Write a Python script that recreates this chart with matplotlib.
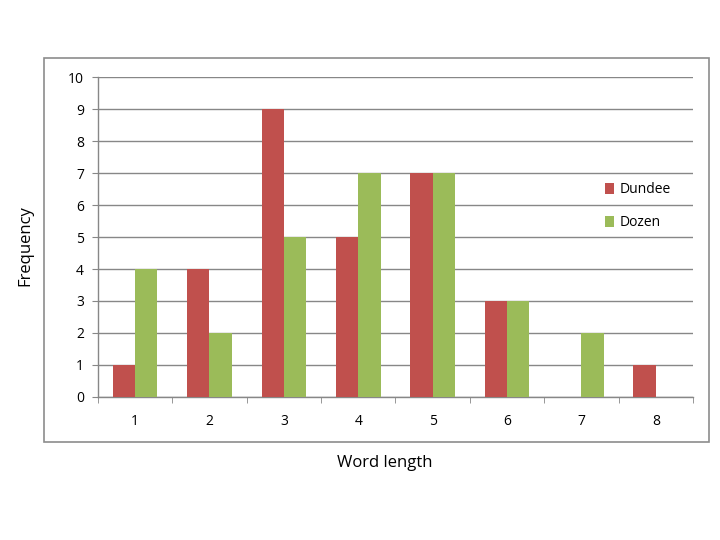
import numpy as np
import matplotlib
matplotlib.use('Agg')
import matplotlib.pyplot as plt
from matplotlib.patches import Rectangle

plt.rcParams['font.family'] = ['Open Sans', 'DejaVu Sans']

word_length = [1, 2, 3, 4, 5, 6, 7, 8]
dundee = [1, 4, 9, 5, 7, 3, 0, 1]
dozen = [4, 2, 5, 7, 7, 3, 2, 0]
series_names = ['Dundee', 'Dozen']
y_ticks = list(range(0, 11))

red = '#C0504D'
green = '#9BBB59'
grid_col = '#878787'

fig = plt.figure(figsize=(7.2, 5.4), dpi=100)
# outer chart border
fig.patches.append(Rectangle((0.061, 0.1815), 0.924, 0.711, transform=fig.transFigure,
                             fill=False, edgecolor='#8c8c8c', linewidth=1.2))

ax = fig.add_axes([0.136, 0.265, 0.8265, 0.592])
x = np.arange(len(word_length))
w = 0.3
b1 = ax.bar(x - w/2, dundee, width=w, color=red, label=series_names[0], zorder=3)
b2 = ax.bar(x + w/2, dozen, width=w, color=green, label=series_names[1], zorder=3)

ax.set_xlim(-0.5, len(word_length) - 0.5)
ax.set_ylim(0, 10)
ax.set_yticks(y_ticks)
ax.set_xticks(x)
ax.set_xticklabels([str(v) for v in word_length])
ax.set_xticks(np.arange(-0.5, len(word_length)), minor=True)
ax.tick_params(axis='x', which='major', length=0, pad=12, labelsize=10)
ax.tick_params(axis='x', which='minor', length=4, color=grid_col)
ax.tick_params(axis='y', length=4, color=grid_col, labelsize=10, pad=6)

ax.yaxis.grid(True, color=grid_col, linewidth=1.0, zorder=0)
ax.set_axisbelow(True)
for s in ['top', 'right']:
    ax.spines[s].set_visible(False)
for s in ['left', 'bottom']:
    ax.spines[s].set_color(grid_col)
    ax.spines[s].set_linewidth(1.0)

fig.text(0.535, 0.142, 'Word length', ha='center', va='center', fontsize=12)
fig.text(0.035, 0.545, 'Frequency', ha='center', va='center', rotation=90, fontsize=12)

fig.legend(handles=[b1, b2], loc='upper left', bbox_to_anchor=(0.83, 0.675),
           frameon=False, fontsize=10, handlelength=0.7, handleheight=0.9,
           handletextpad=0.4, labelspacing=1.3, borderpad=0)

plt.savefig('out.png', dpi=100)
plt.close()
